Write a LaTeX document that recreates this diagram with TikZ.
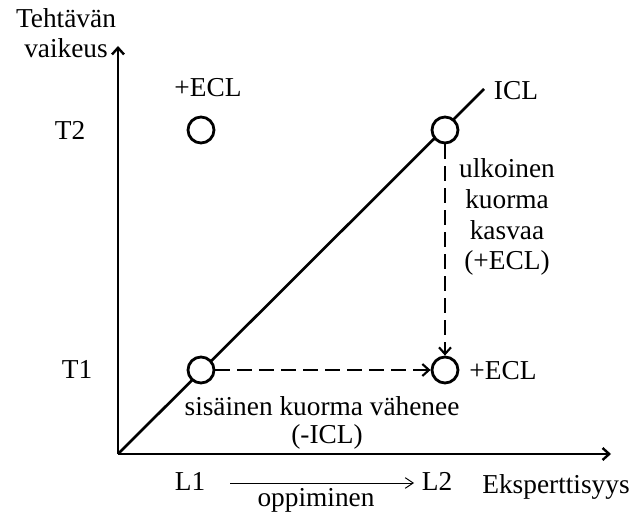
\documentclass[tikz,border=0pt]{standalone}
\usepackage{fontspec}
\setmainfont{Liberation Serif}
\usetikzlibrary{arrows.meta}
\begin{document}
\begin{tikzpicture}[x=0.75pt,y=-0.75pt,
  lbl/.style={font=\fontsize{20.5}{23}\selectfont, inner sep=0pt, anchor=base},
  pt/.style={circle, draw, line width=2.1pt, minimum size=19.5pt, inner sep=0pt},
  axis/.style={line width=2.2pt, -{Straight Barb[length=5pt,width=9pt,line width=1.8pt]}},
  dsh/.style={line width=1.9pt, dash pattern=on 11pt off 5.5pt, -{Straight Barb[length=5pt,width=9pt,line width=1.6pt]}},
  thin arrow/.style={line width=0.7pt, -{Straight Barb[length=6pt,width=8pt,line width=0.7pt]}}]
\useasboundingbox (0,0) rectangle (635,513);
\coordinate (O) at (118,454);
\coordinate (ytop) at (118,46);
\coordinate (xend) at (611,454);
\coordinate (iclend) at (484,89);
\draw[axis] (O) -- (ytop);
\draw[axis] (O) -- (xend);
\draw[line width=2pt] (O) -- (iclend);
\node[pt, fill=white] (p11) at (201,370) {};
\node[pt, fill=white] (p12) at (445,130) {};
\node[pt] (p21) at (445,370) {};
\node[pt] (pT2) at (201,130) {};
\draw[dsh] (p11) -- (p21);
\draw[dsh] (p12) -- (p21);
\node[lbl] (t1) at (66,28) {Tehtävän};
\node[lbl] (t2) at (66,58) {vaikeus};
\node[lbl] (T2) at (70,140) {T2};
\node[lbl] (T1) at (77,378) {T1};
\node[lbl] (ecl1) at (208,97) {+ECL};
\node[lbl] (icl) at (516,100) {ICL};
\node[lbl] (ecl2) at (503,379) {+ECL};
\node[lbl] (u1) at (507,178) {ulkoinen};
\node[lbl] (u2) at (507,209) {kuorma};
\node[lbl] (u3) at (507,240) {kasvaa};
\node[lbl] (u4) at (507,270) {(+ECL)};
\node[lbl] (sis) at (322,415) {sisäinen kuorma vähenee};
\node[lbl] (icl2) at (327,443) {(-ICL)};
\node[lbl] (L1) at (190,490) {L1};
\node[lbl] (L2) at (437,490) {L2};
\node[lbl] (eks) at (556,493) {Eksperttisyys};
\node[lbl] (opp) at (316,506) {oppiminen};
\coordinate (la) at (230,483);
\coordinate (lb) at (414,483);
\draw[thin arrow] (la) -- (lb);
\end{tikzpicture}
\end{document}
